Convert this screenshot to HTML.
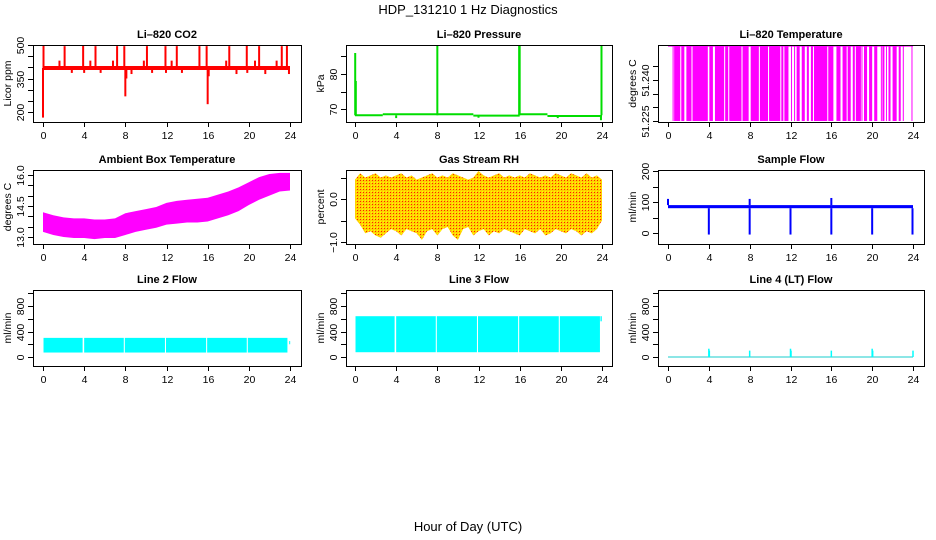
<!DOCTYPE html>
<html><head><meta charset="utf-8"><style>
html,body{margin:0;padding:0;background:#fff}
svg{display:block;font-family:"Liberation Sans",Arial,sans-serif}
</style></head><body>
<svg id="fig" width="936" height="540" viewBox="0 0 936 540" xmlns="http://www.w3.org/2000/svg">
<defs>
<pattern id="rhpat" width="3" height="3" patternUnits="userSpaceOnUse"><rect width="3" height="3" fill="#ffd000"/><rect width="1" height="1" fill="#ff2000"/><rect x="2" y="2" width="1" height="1" fill="#ffff00"/></pattern>
</defs>
<text x="468" y="14" text-anchor="middle" font-size="13">HDP_131210  1 Hz Diagnostics</text>
<text x="468" y="531" text-anchor="middle" font-size="13">Hour of Day (UTC)</text>
</svg>
<script>
// ---------- data ----------
const xTicks = [0,4,8,12,16,20,24];
const co2Baseline = 397;
const co2SpikeHours = [0,0.05,1.6,2.1,2.8,3.9,4.0,4.6,5.1,5.6,6.8,7.2,7.9,8.0,8.1,8.6,9.8,10.1,10.6,11.9,11.95,12.5,13.0,13.5,15.2,15.9,16.0,16.1,17.8,18.1,18.8,19.8,19.85,20.6,21.0,21.6,22.7,23.2,23.7,23.9];
const co2SpikeValues = [175,500,430,495,375,500,375,430,495,375,430,495,495,270,350,370,430,495,375,495,375,430,495,375,495,495,235,360,430,495,370,500,375,430,495,370,430,495,500,370];
const presSegStart = [0,2.7,11.5,16,18.7];
const presSegEnd = [2.7,11.5,16,18.7,24];
const presSegValue = [68.2,68.5,68.1,68.5,68.0];
const presSpikeHours = [0.02,0.08,8.0,15.95,16.0,23.95,4.0,12.0,19.7,23.9];
const presSpikeValues = [86,78,88,88,88,88,67.4,67.5,67.4,66.8];
const liTempHigh = 51.2525, liTempLow = 51.225;
const liTempFillStart = [0.45,0.6,1.3,1.8,2.4,4.05,4.6,5.6,6.0,7.3,8.1,9.0,9.9,11.1,11.4,12.6,13.1,13.6,14.0,14.3,15.7,16.5,17.1,17.6,18.1,18.4,19.2,19.7,20.2,21.0,21.6,22.0,22.6,23.0];
const liTempFillEnd = [0.55,1.2,1.6,2.3,3.9,4.4,5.5,5.9,7.2,7.9,8.9,9.8,11.0,11.3,11.8,12.9,13.4,13.8,14.2,15.6,16.2,16.9,17.5,17.9,18.3,18.9,19.5,20.0,20.5,21.2,21.8,22.4,22.8,23.1];
const liTempSingles = [12.1,12.4,19.0,20.9,21.4,23.9];
const ambHours = [0,1,2,3,4,5,6,7,8,9,10,11,12,13,14,15,16,17,18,19,20,21,22,23,24];
const ambTop = [14.2,14.05,13.95,13.9,13.9,13.85,13.85,13.9,14.15,14.25,14.35,14.45,14.65,14.75,14.8,14.85,14.9,15.05,15.2,15.4,15.65,15.9,16.05,16.1,16.1];
const ambBot = [13.25,13.1,13.0,12.95,12.95,12.9,12.95,12.95,13.1,13.25,13.35,13.45,13.6,13.65,13.7,13.7,13.75,13.9,14.05,14.25,14.55,14.8,15.0,15.2,15.25];
const rhTop = [0.45,0.6,0.5,0.55,0.6,0.5,0.55,0.5,0.55,0.6,0.5,0.55,0.45,0.5,0.55,0.6,0.5,0.55,0.5,0.6,0.55,0.5,0.45,0.5,0.65,0.55,0.5,0.55,0.6,0.5,0.55,0.5,0.55,0.5,0.6,0.55,0.5,0.55,0.5,0.6,0.55,0.5,0.6,0.55,0.5,0.6,0.5,0.55,0.45];
const rhBot = [-0.45,-0.6,-0.8,-0.75,-0.85,-0.9,-0.8,-0.7,-0.75,-0.85,-0.7,-0.75,-0.8,-0.95,-0.75,-0.7,-0.85,-0.7,-0.65,-0.85,-0.95,-0.7,-0.65,-0.85,-0.75,-0.7,-0.85,-0.75,-0.8,-0.7,-0.75,-0.8,-0.85,-0.7,-0.75,-0.8,-0.7,-0.85,-0.8,-0.7,-0.75,-0.8,-0.7,-0.75,-0.85,-0.75,-0.8,-0.7,-0.5];
const sfLo = 80, sfHi = 90;
const sfDropHours = [4,8,12,16,20,23.95];
const sfDropValues = [-5,-5,-5,-5,-5,-5];
const sfUpHours = [0,8,16];
const sfUpValues = [110,110,113];
const l2Start = [0.05,4.0,7.95,11.95,15.95,19.9,23.92];
const l2End = [3.85,7.85,11.85,15.85,19.8,23.75,23.98];
const l2Lo = [70,70,70,70,70,70,200];
const l2Hi = [300,300,300,300,300,300,250];
const l3Start = [0.05,4.0,7.95,11.95,15.95,19.9,23.85];
const l3End = [3.85,7.85,11.85,15.85,19.8,23.8,23.98];
const l3Lo = [75,75,75,75,75,75,560];
const l3Hi = [640,640,640,640,640,640,640];
const l4Base = 0;
const l4SpikeHours = [4,4.05,8,12,12.05,16,20,20.05,24];
const l4SpikeValues = [130,100,100,130,100,100,130,100,100];

// ---------- layout ----------
const NS = 'http://www.w3.org/2000/svg';
const svg = document.getElementById('fig');
const cols = [{l:33,r:301,x0:43,x24:290},{l:346,r:612,x0:355,x24:602},{l:658,r:924,x0:668,x24:913}];
const rows = [{t:45,b:122},{t:170,b:244},{t:290,b:366}];
function el(tag, attrs, parent){const e=document.createElementNS(NS,tag);for(const k in attrs)e.setAttribute(k,attrs[k]);(parent||svg).appendChild(e);return e;}

function panel(name, title, ytitle, ci, ri, ymin, ymax, yticks, ylabels){
  const c=cols[ci], r=rows[ri];
  const g=el('g',{});
  
  
  const xs=h=>c.x0+(c.x24-c.x0)*h/24;
  const ys=v=>r.b-(v-ymin)/(ymax-ymin)*(r.b-r.t);
  const t=el('text',{x:(c.l+c.r)/2,y:r.t-7,'text-anchor':'middle','font-size':'11','font-weight':'bold'},g);
  t.textContent=title;
  
  
  const marks=el('g',{},g);
  
  
  const ax=el('g',{stroke:'#000','stroke-width':'1',fill:'none'},g);
  
  
  el('rect',{x:c.l+0.5,y:r.t+0.5,width:c.r-c.l,height:r.b-r.t},ax);
  xTicks.forEach(h=>{
    const x=Math.round(xs(h))+0.5;
    el('line',{x1:x,y1:r.b,x2:x,y2:r.b+5},ax);
    const tl=el('text',{x:x,y:r.b+17,'text-anchor':'middle','font-size':'10.5',fill:'#000',stroke:'none'},g);
    tl.textContent=h;
    
    
  });
  yticks.forEach((v,i)=>{
    const y=Math.round(ys(v))+0.5;
    el('line',{x1:c.l-5,y1:y,x2:c.l,y2:y},ax);
    if(ylabels[i]!==''){
      const tl=el('text',{x:0,y:0,transform:`translate(${c.l-9},${y}) rotate(-90)`,'text-anchor':'middle','font-size':'10.5'},g);
      tl.textContent=ylabels[i];
      
      
    }
  });
  const yt=el('text',{x:0,y:0,transform:`translate(${c.l-22},${(r.t+r.b)/2}) rotate(-90)`,'text-anchor':'middle','font-size':'10.5'},g);
  yt.textContent=ytitle;
  
  
  return {xs,ys,marks};
}
function vline(p,h,v1,v2,color,w){return el('line',{x1:p.xs(h),x2:p.xs(h),y1:p.ys(v1),y2:p.ys(v2),stroke:color,'stroke-width':w||1},p.marks);}
function band(p,h1,h2,lo,hi,fill){return el('rect',{x:p.xs(h1),y:p.ys(hi),width:Math.max(1,p.xs(h2)-p.xs(h1)),height:p.ys(lo)-p.ys(hi),fill:fill},p.marks);}

// CO2
let p=panel('co2','Li\u2013820 CO2','Licor ppm',0,0,500-77/67*300,500,[200,250,300,350,400,450,500],['200','','','350','','','500']);
{const ln=el('line',{x1:p.xs(0),x2:p.xs(24),y1:p.ys(co2Baseline),y2:p.ys(co2Baseline),stroke:'#ff0000','stroke-width':4},p.marks);

}
co2SpikeHours.forEach((h,i)=>{const m=vline(p,h,co2Baseline,co2SpikeValues[i],'#ff0000',2);

});

// Pressure
p=panel('pressure','Li\u2013820 Pressure','kPa',1,0,70-13/3.5,70+64/3.5,[70,75,80,85],['70','','80','']);
presSegStart.forEach((s,i)=>{const m=el('line',{x1:p.xs(s),x2:p.xs(presSegEnd[i]),y1:p.ys(presSegValue[i]),y2:p.ys(presSegValue[i]),stroke:'#00dd00','stroke-width':2},p.marks);

});
presSpikeHours.forEach((h,i)=>{const m=vline(p,h,68.2,presSpikeValues[i],'#00dd00',2);

});

// Li-820 temperature
p=panel('li820-temp','Li\u2013820 Temperature','degrees C',2,0,51.225-1/13.67*0.005,51.225+76/13.67*0.005,[51.225,51.23,51.235,51.24,51.245],['51.225','','','51.240','']);
{const m=el('line',{x1:p.xs(0),x2:p.xs(24),y1:p.ys(liTempHigh),y2:p.ys(liTempHigh),stroke:'#ff00ff','stroke-width':1.5},p.marks);

}
liTempFillStart.forEach((s,i)=>{const m=band(p,s,liTempFillEnd[i],liTempLow,liTempHigh,'#ff00ff');

});
liTempSingles.forEach(h=>{const m=vline(p,h,liTempLow,liTempHigh,'#ff00ff',1);

});

// Ambient
p=panel('ambient','Ambient Box Temperature','degrees C',0,1,16-(244-175)/20.67,16+(175-170)/20.67,[13,13.5,14,14.5,15,15.5,16],['13.0','','','14.5','','','16.0']);
{let pts=ambHours.map((h,i)=>p.xs(h)+','+p.ys(ambTop[i]));
pts=pts.concat(ambHours.slice().reverse().map((h,j)=>{const i=ambHours.length-1-j;return p.xs(h)+','+p.ys(ambBot[i]);}));
const m=el('polygon',{points:pts.join(' '),fill:'#ff00ff'},p.marks);

}

// RH
p=panel('rh','Gas Stream RH','percent',1,1,-(244-199)/43,(199-170)/43,[-1,-0.5,0,0.5],['\u22121.0','','0.0','']);
{const n=rhTop.length;const hs=rhTop.map((_,i)=>i*24/(n-1));
let pts=hs.map((h,i)=>p.xs(h)+','+p.ys(rhTop[i]));
pts=pts.concat(hs.slice().reverse().map((h,j)=>p.xs(h)+','+p.ys(rhBot[n-1-j])));
const m=el('polygon',{points:pts.join(' '),fill:'url(#rhpat)'},p.marks);

}

// Sample flow
p=panel('sample-flow','Sample Flow','ml/min',2,1,-(244-233)/0.31,(233-170)/0.31,[0,50,100,150,200],['0','','100','','200']);
{const m=band(p,0,24,sfLo,sfHi,'#0000ff');

}
sfDropHours.forEach((h,i)=>{const m=vline(p,h,sfLo,sfDropValues[i],'#0000ff',2);

});
sfUpHours.forEach((h,i)=>{const m=vline(p,h,sfHi,sfUpValues[i],'#0000ff',2);

});

// Line flows
const r3min=-(366-357)/25.5*400, r3max=(357-290)/25.5*400;
const r3t=[0,200,400,600,800,1000], r3l=['0','','400','','800',''];
p=panel('line2-flow','Line 2 Flow','ml/min',0,2,r3min,r3max,r3t,r3l);
l2Start.forEach((s,i)=>{const m=band(p,s,l2End[i],l2Lo[i],l2Hi[i],'#00ffff');

});
p=panel('line3-flow','Line 3 Flow','ml/min',1,2,r3min,r3max,r3t,r3l);
l3Start.forEach((s,i)=>{const m=band(p,s,l3End[i],l3Lo[i],l3Hi[i],'#00ffff');

});
p=panel('line4-flow','Line 4 (LT) Flow','ml/min',2,2,r3min,r3max,r3t,r3l);
{const m=el('line',{x1:p.xs(0),x2:p.xs(24),y1:p.ys(l4Base),y2:p.ys(l4Base),stroke:'#66dddd','stroke-width':1.5},p.marks);

}
l4SpikeHours.forEach((h,i)=>{const m=vline(p,h,l4Base,l4SpikeValues[i],'#00ffff',1.5);

});
</script>
</body></html>
